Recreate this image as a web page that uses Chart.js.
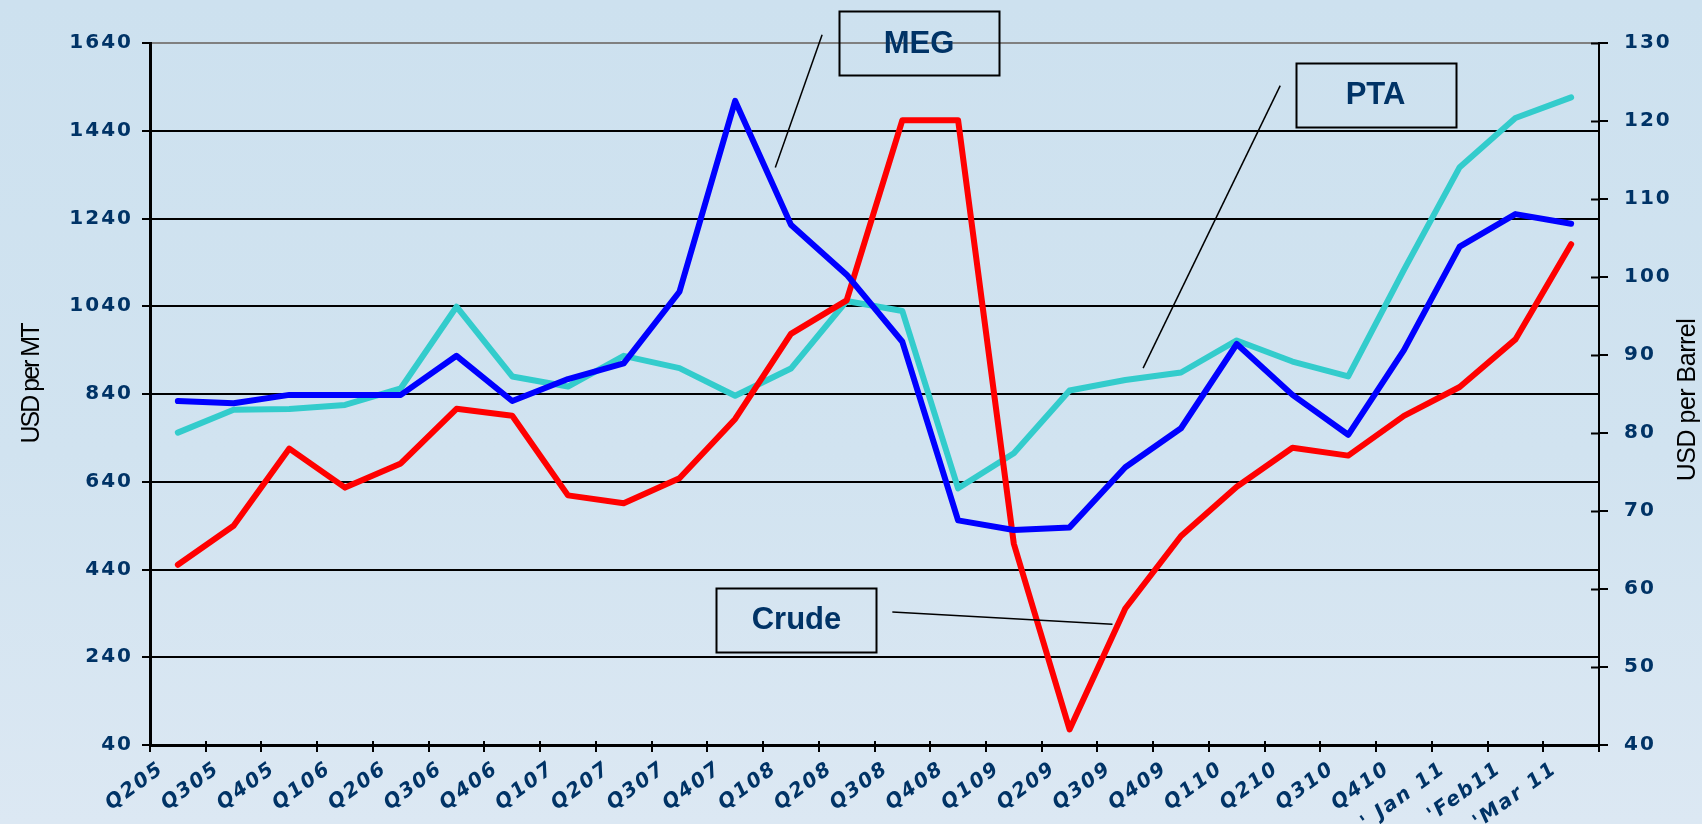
<!DOCTYPE html>
<html>
<head>
<meta charset="utf-8">
<script src="https://cdn.jsdelivr.net/npm/chart.js@4.4.1/dist/chart.umd.min.js"></script>
<style>
  html, body { margin: 0; padding: 0; }
  body {
    width: 1702px;
    height: 824px;
    overflow: hidden;
    background: linear-gradient(to bottom, #cde1ef 0%, #d1e3f0 55%, #dce8f3 100%);
  }
  canvas { display: block; }
</style>
</head>
<body>
<canvas id="chart" width="1702" height="824"></canvas>
<script>
  const quarters = [
    "Q205", "Q305", "Q405", "Q106", "Q206", "Q306", "Q406", "Q107", "Q207",
    "Q307", "Q407", "Q108", "Q208", "Q308", "Q408", "Q109", "Q209", "Q309",
    "Q409", "Q110", "Q210", "Q310", "Q410", "' Jan 11", "'Feb11", "'Mar 11"
  ];

  // USD per MT (left axis)
  const megPrices = [
    824, 819, 838, 838, 838, 927, 824, 874, 910, 1073, 1508, 1226, 1112,
    959, 552, 530, 536, 673, 762, 954, 838, 747, 940, 1176, 1250, 1228
  ];
  const ptaPrices = [
    752, 804, 806, 815, 853, 1039, 880, 857, 927, 899, 836, 898, 1052,
    1029, 625, 705, 848, 872, 889, 962, 914, 880, 1123, 1357, 1469, 1516
  ];

  // USD per Barrel (right axis)
  const crudePrices = [
    63.1, 68.1, 78.0, 73.0, 76.1, 83.1, 82.2, 72.0, 71.0, 74.2, 81.8, 92.7, 97.0,
    120.1, 120.1, 65.8, 42.0, 57.5, 66.8, 73.1, 78.1, 77.1, 82.2, 85.9, 92.0, 104.2
  ];

  const leftTitle = "USD per MT";
  const rightTitle = "USD per Barrel";

  // callout boxes: centre and leader line given in (category index, USD per MT)
  const callouts = [
    { text: "MEG", at: [13.30, 1639], from: [11.56, 1659], to: [10.72, 1356] },
    { text: "PTA", at: [21.49, 1522], from: [19.78, 1543], to: [17.32, 899] },
    { text: "Crude", at: [11.10, 326], from: [12.82, 343], to: [16.77, 315] }
  ];

  const navy = "#003366";
  const tickFont = { family: "DejaVu Sans", size: 20, weight: "bold" };

  const textSpacing = {
    id: "textSpacing",
    beforeLayout(chart) { chart.ctx.letterSpacing = "2px"; },
    beforeDraw(chart) { chart.ctx.letterSpacing = "2px"; }
  };

  const crossTicks = {
    id: "crossTicks",
    afterDraw(chart) {
      const { ctx, scales } = chart;
      const yR = scales.yRight;
      const x = scales.x;
      ctx.save();
      ctx.strokeStyle = "#000";
      ctx.lineWidth = 2;
      ctx.beginPath();
      yR.ticks.forEach(t => {
        const py = Math.round(yR.getPixelForValue(t.value)) + 0.5;
        ctx.moveTo(yR.left - 8, py);
        ctx.lineTo(yR.left, py);
      });
      for (let i = 0; i <= quarters.length; i++) {
        const px = Math.round(x.getPixelForValue(i - 0.5));
        ctx.moveTo(px, x.top - 4);
        ctx.lineTo(px, x.top);
      }
      ctx.stroke();
      ctx.restore();
    }
  };

  function drawVertical(ctx, text, x, y, spacing) {
    ctx.save();
    ctx.letterSpacing = spacing;
    ctx.translate(x, y);
    ctx.rotate(-Math.PI / 2);
    ctx.fillText(text, 0, 0);
    ctx.restore();
  }

  const axisTitles = {
    id: "axisTitles",
    afterDraw(chart) {
      const { ctx, chartArea } = chart;
      const midY = (chartArea.top + chartArea.bottom) / 2;
      ctx.save();
      ctx.fillStyle = "#000";
      ctx.font = "25px 'Liberation Sans', Arial, sans-serif";
      ctx.textAlign = "center";
      ctx.textBaseline = "middle";
      drawVertical(ctx, leftTitle, 32, midY - 10, "-2px");
      drawVertical(ctx, rightTitle, chart.width - 14, midY + 6, "-0.5px");
      ctx.restore();
    }
  };

  const calloutBoxes = {
    id: "calloutBoxes",
    afterDraw(chart) {
      const { ctx, scales } = chart;
      const px = v => scales.x.getPixelForValue(v[0]);
      const py = v => scales.y.getPixelForValue(v[1]);
      ctx.save();
      ctx.letterSpacing = "0px";
      callouts.forEach(c => {
        ctx.strokeStyle = "#000";
        ctx.lineWidth = 1.5;
        ctx.beginPath();
        ctx.moveTo(px(c.from), py(c.from));
        ctx.lineTo(px(c.to), py(c.to));
        ctx.stroke();

        const cx = px(c.at);
        const cy = py(c.at);
        ctx.lineWidth = 2;
        ctx.strokeRect(Math.round(cx - 80) + 0.5, Math.round(cy - 32) + 0.5, 160, 64);

        ctx.fillStyle = navy;
        ctx.font = "bold 31px 'Liberation Sans', Arial, sans-serif";
        ctx.textAlign = "center";
        ctx.textBaseline = "middle";
        ctx.fillText(c.text, cx, cy + 1);
      });
      ctx.restore();
    }
  };

  function lineSet(label, data, color, axis) {
    return {
      label,
      data,
      yAxisID: axis,
      borderColor: color,
      backgroundColor: color,
      borderWidth: 6,
      borderCapStyle: "round",
      borderJoinStyle: "round",
      pointRadius: 0,
      tension: 0,
      fill: false
    };
  }

  const plainNumber = value => String(value);

  new Chart(document.getElementById("chart"), {
    type: "line",
    data: {
      labels: quarters,
      datasets: [
        lineSet("MEG", megPrices, "#0000ff", "y"),
        lineSet("Crude", crudePrices, "#ff0000", "yRight"),
        lineSet("PTA", ptaPrices, "#33cccc", "y")
      ]
    },
    options: {
      responsive: false,
      devicePixelRatio: 1,
      animation: false,
      layout: { padding: { top: 43, left: 0, right: 0, bottom: 0 } },
      plugins: {
        legend: { display: false },
        tooltip: { enabled: false }
      },
      scales: {
        x: {
          type: "category",
          offset: true,
          grid: {
            offset: true,
            drawOnChartArea: false,
            color: "#000",
            lineWidth: 2,
            tickLength: 7
          },
          border: { display: true, color: "#000", width: 3 },
          ticks: {
            autoSkip: false,
            minRotation: 36,
            maxRotation: 36,
            padding: 5,
            labelOffset: -16,
            color: navy,
            font: { ...tickFont, style: "italic" }
          },
          afterFit(scale) { scale.height = 79; }
        },
        y: {
          position: "left",
          min: 40,
          max: 1640,
          ticks: { stepSize: 200, padding: 9, color: navy, font: tickFont, callback: plainNumber },
          grid: {
            color: ctx => (ctx.tick && ctx.tick.value === 1640 ? "#808080" : "#000"),
            tickColor: "#000",
            lineWidth: 2,
            tickLength: 8
          },
          border: { color: "#000", width: 3 },
          afterFit(scale) { scale.width = 150; }
        },
        yRight: {
          position: "right",
          min: 40,
          max: 130,
          ticks: { stepSize: 10, padding: 16, color: navy, font: tickFont, callback: plainNumber },
          grid: {
            drawOnChartArea: false,
            color: "#000",
            lineWidth: 2,
            tickLength: 9
          },
          border: { color: "#000", width: 2 },
          afterFit(scale) { scale.width = 103; }
        }
      }
    },
    plugins: [textSpacing, crossTicks, axisTitles, calloutBoxes]
  });
</script>
</body>
</html>
